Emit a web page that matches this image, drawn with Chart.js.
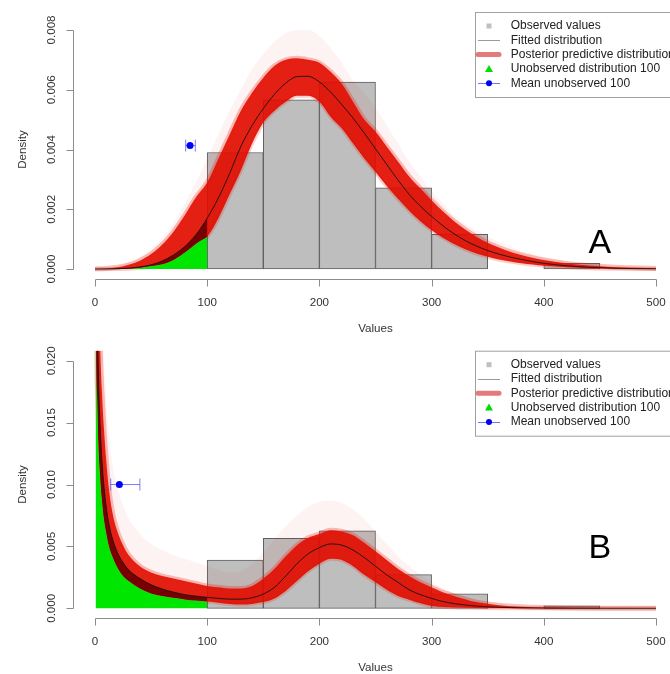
<!DOCTYPE html>
<html><head><meta charset="utf-8">
<script src="https://cdn.jsdelivr.net/npm/chart.js@4/dist/chart.umd.min.js"></script>
<style>
html,body{margin:0;padding:0;background:#fff;width:670px;height:674px;overflow:hidden}
#wrap{position:relative;width:670px;height:674px;overflow:hidden;background:#fff}
canvas{position:absolute;left:0}
#ca{top:0}
#cb{top:335px}
</style></head><body>
<div id="wrap"><canvas id="ca" width="700" height="335"></canvas><canvas id="cb" width="700" height="339"></canvas></div>
<script>
// ---------- data ----------
const xTicks = [0, 100, 200, 300, 400, 500];
const xTickLabels = ['0', '100', '200', '300', '400', '500'];
const xTitle = 'Values';
const yTitle = 'Density';
const legendLabels = ['Observed values', 'Fitted distribution', 'Posterior predictive distribution', 'Unobserved distribution 100', 'Mean unobserved 100'];
const unobsLimit = 100;

// histogram of observed values (bin centres, width 50) - same in both panels
const binCenters = [125, 175, 225, 275, 325, 375, 425, 475];
const obsDensity = [0.0039, 0.00566, 0.00626, 0.00272, 0.00116, 0, 0.00019, 0];

// Panel A
const yTicksA = [0, 0.002, 0.004, 0.006, 0.008];
const yLabelsA = ['0.000', '0.002', '0.004', '0.006', '0.008'];
const xA = [0,10,20,30,40,50,60,70,80,90,100,110,120,130,140,150,160,170,180,190,200,210,220,230,240,250,260,270,280,290,300,310,320,330,340,350,360,370,380,390,400,420,440,460,480,500];
const fittedA = [0,0.000002,0.00001,0.00003,0.00007,0.00014,0.00027,0.00047,0.00075,0.00115,0.0017,0.00238,0.0032,0.0041,0.0048,0.00537,0.00585,0.00622,0.00644,0.00645,0.00626,0.00592,0.0055,0.00505,0.00455,0.00402,0.0035,0.00298,0.0025,0.0021,0.00176,0.00145,0.00118,0.00095,0.00077,0.00062,0.0005,0.0004,0.00032,0.00025,0.00019,0.00011,0.00006,0.00003,0.000015,0.000008];
const upperA = [0,0.00002,0.00006,0.00014,0.00028,0.0005,0.00082,0.00125,0.0018,0.0024,0.0029,0.0037,0.0045,0.0053,0.0059,0.0064,0.0068,0.007,0.00705,0.007,0.0069,0.0066,0.0062,0.0056,0.005,0.0046,0.0041,0.0036,0.0031,0.0027,0.0023,0.00193,0.0016,0.00132,0.00108,0.00088,0.00072,0.00058,0.00047,0.00038,0.0003,0.00019,0.00012,0.00007,0.00004,0.00002];
const lowerA = [0,0,0.000002,0.00001,0.00004,0.0001,0.00016,0.0003,0.00055,0.00085,0.00108,0.0017,0.0025,0.0033,0.0042,0.0049,0.0053,0.0056,0.0058,0.0058,0.0056,0.0051,0.0047,0.0042,0.0037,0.00325,0.00278,0.00235,0.00195,0.0016,0.0013,0.00105,0.00084,0.00066,0.00052,0.00041,0.00032,0.00025,0.00019,0.00015,0.00011,0.00006,0.00003,0.00001,0.000005,0.000002];
const haloA = [0,0.00003,0.0001,0.00022,0.0004,0.00068,0.00105,0.00155,0.0022,0.0029,0.0037,0.0045,0.0053,0.006,0.0067,0.0072,0.0076,0.0079,0.008,0.008,0.0078,0.0074,0.0069,0.0063,0.0059,0.0054,0.0048,0.0042,0.0036,0.0031,0.0026,0.0022,0.0018,0.0015,0.0013,0.0011,0.0009,0.00075,0.0006,0.0005,0.0004,0.00026,0.00016,0.0001,0.00006,0.00003];
const meanA = { x: 84.7, lo: 80.8, hi: 89.4, y: 0.00413 };

// Panel B
const yTicksB = [0, 0.005, 0.010, 0.015, 0.020];
const yLabelsB = ['0.000', '0.005', '0.010', '0.015', '0.020'];
const xB = [0.5,1,2,3,4,5,6,8,10,12,15,20,25,30,40,50,60,70,80,90,100,110,120,130,140,150,160,170,180,190,200,210,220,230,240,250,260,270,280,290,300,310,320,340,360,380,400,450,500];
const fittedB = [0.06,0.035,0.024,0.019,0.016,0.0138,0.0122,0.0098,0.0082,0.007,0.0058,0.0045,0.0037,0.0031,0.0024,0.0019,0.00155,0.0013,0.0011,0.00098,0.00088,0.0008,0.00074,0.00074,0.00085,0.00115,0.0017,0.0026,0.0036,0.0044,0.0049,0.0052,0.0051,0.0047,0.0041,0.0034,0.0027,0.0021,0.0015,0.0011,0.0008,0.00055,0.00038,0.00018,0.00008,0.00004,0.00002,0.000005,0.000001];
const upperB = [0.07,0.05,0.032,0.027,0.023,0.02,0.0178,0.0145,0.012,0.01,0.008,0.0062,0.0051,0.0043,0.0034,0.0029,0.0026,0.0024,0.0022,0.002,0.0018,0.0017,0.0016,0.0016,0.0018,0.0024,0.0032,0.0042,0.0051,0.0057,0.006,0.0063,0.0062,0.0059,0.0053,0.0046,0.0039,0.0032,0.0026,0.0021,0.0017,0.0013,0.001,0.0005,0.00025,0.00012,0.00006,0.00001,0.000003];
const lowerB = [0.05,0.022,0.017,0.0135,0.0115,0.01,0.0089,0.0072,0.0061,0.0052,0.0043,0.0033,0.0026,0.0022,0.0016,0.0012,0.001,0.00085,0.00072,0.00062,0.00055,0.00045,0.00035,0.0003,0.00035,0.0005,0.0008,0.0014,0.0022,0.003,0.0036,0.004,0.0039,0.0034,0.0027,0.0021,0.0015,0.001,0.0007,0.0004,0.00018,0.0001,0.00006,0.00003,0.00001,0.000005,0.000002,0,0];
const haloB = [0.08,0.06,0.04,0.035,0.03,0.027,0.024,0.02,0.017,0.0145,0.012,0.0098,0.0083,0.0073,0.006,0.0052,0.0047,0.0043,0.004,0.0037,0.0034,0.0031,0.0029,0.003,0.0036,0.0045,0.0056,0.0066,0.0075,0.0082,0.0086,0.0087,0.0085,0.008,0.0072,0.0062,0.0052,0.0042,0.0034,0.0027,0.0021,0.0016,0.0012,0.0007,0.0004,0.0002,0.0001,0.00003,0.00001];
const meanB = { x: 21.7, lo: 14, hi: 40, y: 0.010 };

// ---------- drawing ----------
const FONT = s => s + 'px "Liberation Sans", Arial, Helvetica, sans-serif';

const rDecor = {
  id: 'rDecor',
  afterDraw(chart, args, o) {
    const ctx = chart.ctx, xs = chart.scales.x, ys = chart.scales.y, ca = chart.chartArea;
    ctx.save();
    ctx.strokeStyle = '#8c8c8c'; ctx.lineWidth = 1;
    const yb = Math.round(ca.bottom) + 0.5;
    const x0 = xs.getPixelForValue(xTicks[0]), x1 = xs.getPixelForValue(xTicks[xTicks.length - 1]);
    ctx.beginPath();
    ctx.moveTo(Math.round(x0) + 0.5, yb); ctx.lineTo(Math.round(x1) + 0.5, yb);
    for (const t of xTicks) { const p = Math.round(xs.getPixelForValue(t)) + 0.5; ctx.moveTo(p, yb); ctx.lineTo(p, yb + 7); }
    const xa = Math.round(ca.left) + 0.5;
    const yv = o.yTicks;
    ctx.moveTo(xa, Math.round(ys.getPixelForValue(yv[0])) + 0.5);
    ctx.lineTo(xa, Math.round(ys.getPixelForValue(yv[yv.length - 1])) + 0.5);
    for (const t of yv) { const p = Math.round(ys.getPixelForValue(t)) + 0.5; ctx.moveTo(xa, p); ctx.lineTo(xa - 7, p); }
    ctx.stroke();

    ctx.fillStyle = '#333'; ctx.font = FONT(11.6); ctx.textAlign = 'center'; ctx.textBaseline = 'middle';
    xTicks.forEach((t, i) => ctx.fillText(xTickLabels[i], xs.getPixelForValue(t), yb + 23));
    ctx.fillText(xTitle, (x0 + x1) / 2, yb + 49);
    yv.forEach((t, i) => {
      ctx.save(); ctx.translate(xa - 22, ys.getPixelForValue(t)); ctx.rotate(-Math.PI / 2);
      ctx.fillText(o.yLabels[i], 0, 0); ctx.restore();
    });
    ctx.save(); ctx.translate(23, (ca.top + ca.bottom) / 2); ctx.rotate(-Math.PI / 2);
    ctx.fillText(yTitle, 0, 0); ctx.restore();

    // panel letter
    ctx.font = FONT(34); ctx.fillStyle = '#000'; ctx.textBaseline = 'alphabetic';
    ctx.fillText(o.letter, xs.getPixelForValue(o.letterAt[0]), ys.getPixelForValue(o.letterAt[1]) + 12);

    // legend
    const Lt = o.legendTop, Ll = 475;
    ctx.strokeStyle = '#a0a0a0'; ctx.lineWidth = 1;
    ctx.strokeRect(Ll + 0.5, Lt + 0.5, 300, 85);
    const rowY = i => Lt + 14 + i * 14.3;
    const sx = 489;
    ctx.fillStyle = '#c0c0c0'; ctx.fillRect(sx - 2.5, rowY(0) - 2.5, 5, 5);
    ctx.strokeStyle = '#9a9a9a'; ctx.beginPath(); ctx.moveTo(478, Math.round(rowY(1)) + 0.5); ctx.lineTo(500, Math.round(rowY(1)) + 0.5); ctx.stroke();
    ctx.strokeStyle = 'rgba(222,100,100,0.85)'; ctx.lineWidth = 5; ctx.lineCap = 'round';
    ctx.beginPath(); ctx.moveTo(478, rowY(2)); ctx.lineTo(499, rowY(2)); ctx.stroke();
    ctx.lineCap = 'butt'; ctx.lineWidth = 1;
    ctx.fillStyle = '#00dd00'; ctx.beginPath();
    ctx.moveTo(sx, rowY(3) - 4); ctx.lineTo(sx - 4, rowY(3) + 3); ctx.lineTo(sx + 4, rowY(3) + 3); ctx.closePath(); ctx.fill();
    ctx.strokeStyle = 'rgba(80,80,255,0.8)'; ctx.beginPath(); ctx.moveTo(478, Math.round(rowY(4)) + 0.5); ctx.lineTo(500, Math.round(rowY(4)) + 0.5); ctx.stroke();
    ctx.fillStyle = '#0000ee'; ctx.beginPath(); ctx.arc(sx, rowY(4), 3, 0, Math.PI * 2); ctx.fill();
    ctx.fillStyle = '#222'; ctx.font = FONT(12); ctx.textAlign = 'left'; ctx.textBaseline = 'middle';
    legendLabels.forEach((s, i) => ctx.fillText(s, 510.7, rowY(i)));
    ctx.restore();
  }
};

const pts = (xs, ys) => xs.map((x, i) => ({ x, y: ys[i] }));
const T = 'rgba(0,0,0,0)';

function build(canvasId, xs, fit, up, lo, halo, mean, yMax, yTicks, yLabels, letter, letterAt, legendTop, padTop, padBottom) {
  const greenPts = pts(xs, lo).filter(p => p.x <= unobsLimit);
  const darkPts = pts(xs, fit).filter(p => p.x <= unobsLimit);
  const errPts = [{ x: mean.lo, y: mean.y }, { x: mean.hi, y: mean.y }];
  return new Chart(document.getElementById(canvasId), {
    type: 'line',
    data: {
      datasets: [
        { type: 'bar', label: legendLabels[0], data: binCenters.map((x, i) => ({ x, y: obsDensity[i] })),
          backgroundColor: '#bebebe', borderColor: '#5e5e5e', borderWidth: 1, borderSkipped: false,
          barPercentage: 1, categoryPercentage: 1, grouped: false, order: 9 },
        { label: 'halo', data: pts(xs, halo), borderWidth: 0, borderColor: T, backgroundColor: 'rgba(235,40,40,0.055)', fill: 2, order: 8 },
        { label: legendLabels[2], data: pts(xs, up), borderWidth: 5, borderColor: 'rgba(232,30,10,0.28)', backgroundColor: 'rgba(226,12,0,0.92)', fill: 3, order: 6 },
        { label: 'lower', data: pts(xs, lo), borderWidth: 4, borderColor: 'rgba(232,30,10,0.22)', backgroundColor: T, fill: false, order: 7 },
        { label: legendLabels[3], data: greenPts, borderWidth: 0, borderColor: T, backgroundColor: '#00e600', fill: 'origin', order: 5 },
        { label: 'overlap', data: darkPts, borderWidth: 0, borderColor: T, backgroundColor: '#780000', fill: 4, order: 4 },
        { label: legendLabels[1], data: pts(xs, fit), borderColor: 'rgba(20,20,20,0.9)', borderWidth: 1, fill: false, order: 3 },
        { label: 'err', data: errPts, borderColor: 'rgba(70,70,255,0.7)', borderWidth: 1, fill: false, order: 2, cubicInterpolationMode: 'default', tension: 0 },
        { label: 'caps', data: errPts, showLine: false, pointStyle: 'line', pointRotation: 90, pointRadius: 6,
          pointBorderColor: 'rgba(70,70,255,0.7)', pointBorderWidth: 1, order: 1 },
        { label: legendLabels[4], data: [{ x: mean.x, y: mean.y }], showLine: false, pointRadius: 3.5,
          pointBackgroundColor: '#0000ff', pointBorderColor: '#0000ff', pointBorderWidth: 0, order: 0 }
      ]
    },
    options: {
      responsive: false, animation: false, devicePixelRatio: 1, events: [],
      layout: { padding: { left: 72.56, right: 21.56, top: padTop, bottom: padBottom } },
      elements: { point: { radius: 0 }, line: { cubicInterpolationMode: 'monotone' } },
      scales: {
        x: { type: 'linear', min: -20, max: 520, display: false, offset: false,
             afterBuildTicks: s => { s.ticks = xTicks.map(v => ({ value: v })); } },
        y: { type: 'linear', min: -0.04 * yMax, max: 1.04 * yMax, display: false }
      },
      plugins: {
        legend: { display: false }, tooltip: { enabled: false },
        rDecor: { yTicks, yLabels, letter, letterAt, legendTop }
      }
    },
    plugins: [rDecor]
  });
}

build('ca', xA, fittedA, upperA, lowerA, haloA, meanA, 0.008, yTicksA, yLabelsA, 'A', [450, 0.00094], 12, 20.4, 56.4);
build('cb', xB, fittedB, upperB, lowerB, haloB, meanB, 0.020, yTicksB, yLabelsB, 'B', [450, 0.005], 15.7, 15.8, 55.8);
</script>
</body></html>
